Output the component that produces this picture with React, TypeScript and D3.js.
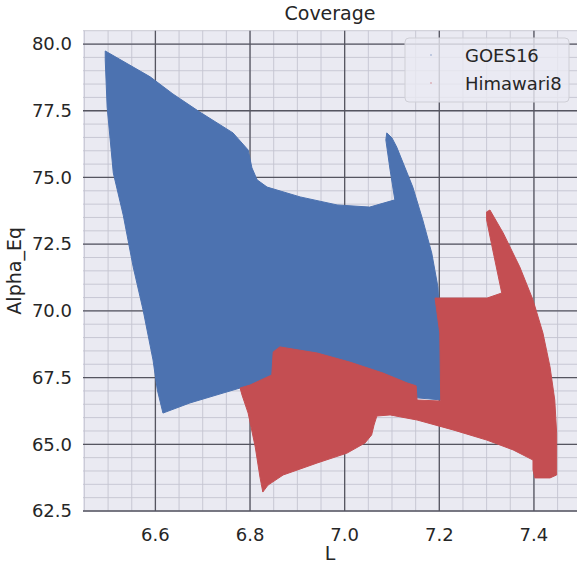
import React from 'react';
import * as d3 from 'd3';

const W = 582;
const H = 563;

const xDomain = [6.447, 7.491];
const yDomain = [62.5, 80.5];
const xTicks = [6.6, 6.8, 7.0, 7.2, 7.4];
const yTicks = [62.5, 65.0, 67.5, 70.0, 72.5, 75.0, 77.5, 80.0];
const seriesNames = ['GOES16', 'Himawari8'];
const seriesColors = ['#4c72b0', '#c44e52'];

// GOES16 coverage outline (L, Alpha_Eq)
const goesL = [6.494, 6.589, 6.637, 6.694, 6.764, 6.796, 6.804, 6.815, 6.836, 6.906, 6.984, 7.053, 7.106, 7.096, 7.087, 7.089, 7.1, 7.11, 7.144, 7.165, 7.184, 7.197, 7.203, 7.205, 7.153, 6.779, 6.743, 6.673, 6.616, 6.604, 6.595, 6.574, 6.553, 6.532, 6.511, 6.498, 6.494];
const goesA = [79.74, 78.77, 78.13, 77.45, 76.67, 76.03, 75.36, 74.91, 74.64, 74.27, 73.97, 73.89, 74.16, 75.28, 76.41, 76.67, 76.48, 76.14, 74.64, 73.41, 72.17, 70.9, 69.17, 66.66, 66.74, 67.11, 66.92, 66.55, 66.17, 67.04, 68.16, 70.03, 71.65, 73.59, 75.17, 77.64, 79.4];

// Himawari8 coverage outline (L, Alpha_Eq)
const himL = [6.779, 6.8, 6.846, 6.849, 6.863, 6.942, 7.011, 7.081, 7.132, 7.151, 7.153, 7.203, 7.201, 7.191, 7.301, 7.332, 7.313, 7.3, 7.3, 7.307, 7.335, 7.37, 7.398, 7.419, 7.434, 7.444, 7.448, 7.448, 7.434, 7.402, 7.398, 7.398, 7.356, 7.3, 7.229, 7.153, 7.096, 7.068, 7.062, 7.057, 7.043, 7.005, 6.942, 6.87, 6.838, 6.827, 6.821, 6.811, 6.796, 6.783];
const himA = [67.11, 67.22, 67.6, 68.46, 68.65, 68.42, 68.08, 67.67, 67.3, 67.19, 66.66, 66.62, 69.17, 70.48, 70.48, 70.67, 72.28, 73.41, 73.71, 73.78, 72.92, 71.65, 70.41, 69.17, 67.9, 66.66, 65.42, 63.85, 63.74, 63.74, 64.04, 64.41, 64.79, 65.16, 65.54, 65.91, 66.1, 66.06, 65.72, 65.35, 65.05, 64.67, 64.3, 63.85, 63.47, 63.21, 63.77, 64.9, 66.17, 66.85];

const FONT = 'DejaVu Sans, sans-serif';
const TXT = '#262626';

export default function App() {
  const left = 83, right = 577, top = 30.7, bottom = 511;
  const x = d3.scaleLinear().domain(xDomain).range([left, right]);
  const y = d3.scaleLinear().domain(yDomain).range([bottom, top]);

  const xMinor = d3.range(129, 150).map((i) => i * 0.05).filter((v) => v >= xDomain[0] && v <= xDomain[1]);
  const yMinor = d3.range(125, 162).map((i) => i * 0.5).filter((v) => v >= yDomain[0] && v <= yDomain[1]);

  const line = d3.line<[number, number]>().x((d) => x(d[0])).y((d) => y(d[1])).curve(d3.curveLinearClosed);
  const goesPts: [number, number][] = goesL.map((l, i) => [l, goesA[i]]);
  const himPts: [number, number][] = himL.map((l, i) => [l, himA[i]]);

  return (
    <div style={{ position: 'fixed', left: 0, top: 0 }}>
      <svg width={W} height={H} style={{ display: 'block' }}>
        <rect x={0} y={0} width={W} height={H} fill="#ffffff" />
        <rect x={left} y={top} width={right - left} height={bottom - top} fill="#eaeaf2" />
        {xMinor.map((v, i) => (
          <line key={'xm' + i} x1={x(v)} x2={x(v)} y1={top} y2={bottom} stroke="#c4c4d0" strokeWidth={0.9} />
        ))}
        {yMinor.map((v, i) => (
          <line key={'ym' + i} x1={left} x2={right} y1={y(v)} y2={y(v)} stroke="#c4c4d0" strokeWidth={0.9} />
        ))}
        {xTicks.map((v, i) => (
          <line key={'xM' + i} x1={x(v)} x2={x(v)} y1={top} y2={bottom} stroke="#555560" strokeWidth={1.3} />
        ))}
        {yTicks.map((v, i) => (
          <line key={'yM' + i} x1={left} x2={right} y1={y(v)} y2={y(v)} stroke="#555560" strokeWidth={1.3} />
        ))}
        <path d={line(goesPts) || ''} fill={seriesColors[0]} stroke={seriesColors[0]} strokeWidth={1} strokeLinejoin="round" />
        <path d={line(himPts) || ''} fill={seriesColors[1]} stroke={seriesColors[1]} strokeWidth={1} strokeLinejoin="round" />

        {/* Legend */}
        <rect x={405} y={38} width={164} height={64} rx={4} fill="#eaeaf2" fillOpacity={0.8} stroke="#cfcfd6" strokeWidth={1} />
        {seriesNames.map((n, i) => (
          <g key={n}>
            <circle cx={431} cy={55 + i * 28} r={0.8} fill={seriesColors[i]} opacity={0.6} />
            <text x={465} y={62 + i * 28} fontFamily={FONT} fontSize={18} fill={TXT}>{n}</text>
          </g>
        ))}

        {yTicks.map((v, i) => (
          <text key={'yl' + i} x={72} y={y(v)} dy="0.35em" textAnchor="end" fontFamily={FONT} fontSize={18} fill={TXT}>
            {v.toFixed(1)}
          </text>
        ))}
        {xTicks.map((v, i) => (
          <text key={'xl' + i} x={x(v)} y={541} textAnchor="middle" fontFamily={FONT} fontSize={18} fill={TXT}>
            {v.toFixed(1)}
          </text>
        ))}
        <text x={(left + right) / 2} y={20} textAnchor="middle" fontFamily={FONT} fontSize={19} fill={TXT}>Coverage</text>
        <text x={(left + right) / 2} y={560} textAnchor="middle" fontFamily={FONT} fontSize={19} fill={TXT}>L</text>
        <text transform={`translate(21, ${(top + bottom) / 2}) rotate(-90)`} textAnchor="middle" fontFamily={FONT} fontSize={19} fill={TXT}>Alpha_Eq</text>
      </svg>
    </div>
  );
}
